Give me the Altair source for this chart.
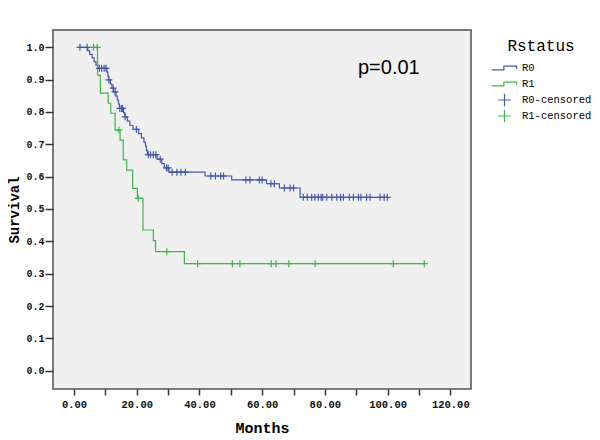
import altair as alt
import numpy as np
import pandas as pd

# ---- data (months, survival level from that time on) ----
r0_times = [1.2, 4.4, 5.0, 5.8, 6.4, 7.0, 7.6, 10.5, 10.8, 11.1, 11.6, 12.1, 12.6,
            13.4, 13.8, 14.2, 14.5, 15.8, 16.2, 17.0, 17.8, 18.8, 20.6, 21.5, 22.3,
            22.8, 23.1, 23.4, 26.5, 28.0, 28.8, 30.3, 41.8, 50.3, 61.4, 65.5, 72.1, 99.9]
r0_surv = [1.0, 0.989, 0.978, 0.967, 0.956, 0.945, 0.935, 0.923, 0.911, 0.899, 0.887,
           0.874, 0.862, 0.849, 0.837, 0.824, 0.811, 0.798, 0.785, 0.772, 0.759, 0.746,
           0.733, 0.720, 0.707, 0.694, 0.681, 0.668, 0.654, 0.640, 0.627, 0.614, 0.602,
           0.590, 0.578, 0.565, 0.536, 0.536]
r0_censored = [1.9, 4.2, 8.1, 8.8, 9.6, 10.2, 11.1, 12.5, 13.1, 14.6, 15.2, 15.5, 16.3,
               19.9, 23.7, 24.4, 25.3, 26.1, 27.5, 29.5, 30.0, 31.3, 32.8, 34.1, 35.5,
               43.6, 45.1, 46.8, 47.7, 54.8, 56.1, 59.1, 60.0, 62.8, 63.9, 67.1, 68.9,
               70.0, 73.1, 74.4, 75.8, 76.8, 77.9, 78.8, 79.3, 80.6, 82.2, 83.8, 85.0,
               85.9, 87.8, 89.1, 90.7, 91.5, 93.3, 94.4, 97.6, 98.9, 99.9]

r1_times = [5.6, 7.5, 8.4, 10.9, 11.7, 13.1, 14.7, 15.7, 16.8, 18.7, 20.2, 22.0, 25.3,
            26.0, 35.2, 111.7]
r1_surv = [1.0, 0.914, 0.858, 0.827, 0.796, 0.744, 0.713, 0.652, 0.620, 0.564, 0.533,
           0.435, 0.402, 0.368, 0.331, 0.331]
r1_censored = [6.2, 7.4, 14.3, 20.5, 29.6, 39.4, 50.5, 52.9, 62.9, 64.4, 68.5, 76.9,
               101.8, 111.7]

groups = ["R0", "R1", "R0-censored", "R1-censored"]
group_colors = ["#4559AA", "#3DB54A", "#4559AA", "#3DB54A"]
x_ticks = [0, 10, 20, 30, 40, 50, 60, 70, 80, 90, 100, 110, 120]
y_ticks = [0.0, 0.1, 0.2, 0.3, 0.4, 0.5, 0.6, 0.7, 0.8, 0.9, 1.0]
p_label = "p=0.01"


def level_at(times, surv, t):
    i = int(np.searchsorted(times, t, side="right")) - 1
    return surv[max(i, 0)]


lines = pd.DataFrame({
    "t": r0_times + r1_times,
    "s": r0_surv + r1_surv,
    "g": ["R0"] * len(r0_times) + ["R1"] * len(r1_times),
})
cens = pd.DataFrame({
    "t": r0_censored + r1_censored,
    "s": [level_at(r0_times, r0_surv, t) for t in r0_censored]
         + [level_at(r1_times, r1_surv, t) for t in r1_censored],
    "g": ["R0-censored"] * len(r0_censored) + ["R1-censored"] * len(r1_censored),
})
note = pd.DataFrame({"t": [100.4], "s": [0.935], "label": [p_label]})

MONO = "Liberation Mono"
xscale = alt.Scale(domain=[-6.7, 126.6], nice=False, zero=False)
yscale = alt.Scale(domain=[-0.0566, 1.0535], nice=False, zero=False)

xaxis = alt.Axis(values=x_ticks, tickCount=13,
                 labelExpr="datum.value % 20 == 0 ? '\u00a0\u00a0' + format(datum.value, '.2f') : ''",
                 title="Months", grid=False, domain=False,
                 tickSize=6, tickWidth=1.5, tickColor="#333333",
                 labelFont=MONO, labelFontWeight="bold", labelFontSize=10.5,
                 labelColor="#111111", labelPadding=4, labelFlush=False,
                 labelOverlap=False,
                 titleFont=MONO, titleFontWeight="bold", titleFontSize=15,
                 titleColor="#000000", titlePadding=11)
yaxis = alt.Axis(values=y_ticks, tickCount=11, format=".1f", title="Survival", grid=False,
                 domain=False, tickSize=8, tickWidth=1.5, tickColor="#333333",
                 labelFont=MONO, labelFontWeight="bold", labelFontSize=10,
                 labelColor="#111111", labelPadding=1, labelFlush=False,
                 labelOverlap=False,
                 titleFont=MONO, titleFontWeight="bold", titleFontSize=14,
                 titleColor="#000000", titlePadding=4.5)

step_path = "M-1,0.14H-0.05V-0.14H0.95V0.05"
cross_path = "M-0.5,0H0.5M0,-0.5V0.5"

base_x = alt.X("t:Q", scale=xscale, axis=xaxis)
base_y = alt.Y("s:Q", scale=yscale, axis=yaxis)

line_r0 = alt.Chart(lines).transform_filter(alt.datum.g == "R0").mark_line(
    interpolate="step-after", strokeWidth=1.2, color=group_colors[0]
).encode(x=base_x, y=base_y)
line_r1 = alt.Chart(lines).transform_filter(alt.datum.g == "R1").mark_line(
    interpolate="step-after", strokeWidth=1.2, color=group_colors[1]
).encode(x=base_x, y=base_y)

points = alt.Chart(cens).mark_point(filled=False, strokeWidth=1.2, opacity=1,
                                    size=196).encode(
    x=base_x, y=base_y,
    color=alt.Color("g:N", scale=alt.Scale(domain=groups, range=group_colors),
                    legend=alt.Legend(title="Rstatus", orient="none", legendX=438,
                                      legendY=8, padding=0, titleAnchor="middle",
                                      titleFont=MONO, titleFontSize=16,
                                      titleFontWeight="normal", titleColor="#000",
                                      titlePadding=6, labelFont=MONO,
                                      labelFontSize=10.5, labelColor="#000",
                                      labelOffset=4, symbolSize=650,
                                      symbolStrokeWidth=1.2, clipHeight=16,
                                      rowPadding=0)),
    shape=alt.Shape("g:N", scale=alt.Scale(domain=groups,
                                           range=[step_path, step_path, cross_path, cross_path])),
)

text = alt.Chart(note).mark_text(font="Liberation Sans", fontSize=20, align="center",
                                 baseline="middle", color="#000").encode(
    x=base_x, y=base_y, text="label:N")

chart = alt.layer(line_r0, line_r1, points, text).properties(
    width=418, height=359,
    autosize=alt.AutoSizeParams(type="none"),
    padding={"left": 45, "top": 22, "right": 121, "bottom": 52},
).configure_view(fill="#F0F0F0", stroke="#505050", strokeWidth=1.5)

chart.save("out.html", embed_options={"renderer": "svg", "actions": False})
